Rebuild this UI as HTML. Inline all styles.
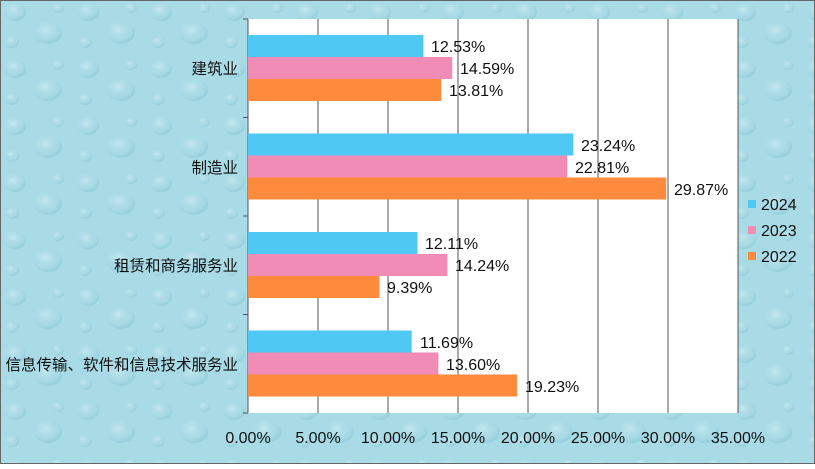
<!DOCTYPE html>
<html><head><meta charset="utf-8"><style>
html,body{margin:0;padding:0}
body{width:815px;height:464px;overflow:hidden;font-family:"Liberation Sans","Noto Sans CJK SC",sans-serif;}
</style></head><body>
<svg width="815" height="464" xmlns="http://www.w3.org/2000/svg" font-family="Liberation Sans, Noto Sans CJK SC, sans-serif">
<defs>
<radialGradient id="d" cx="40%" cy="35%" r="60%"><stop offset="0" stop-color="#d8f0f5" stop-opacity="0.6"/><stop offset="0.7" stop-color="#a6d8e3" stop-opacity="0.2"/><stop offset="1" stop-color="#7fc2d1" stop-opacity="0.4"/></radialGradient>
<pattern id="p" width="73" height="57" patternUnits="userSpaceOnUse">
<rect width="73" height="57" fill="#a9dbe6"/>
<ellipse cx="15" cy="12" rx="11" ry="9" fill="url(#d)"/>
<ellipse cx="48" cy="33" rx="14" ry="11" fill="url(#d)"/>
<ellipse cx="12" cy="42" rx="7" ry="6" fill="url(#d)"/>
<ellipse cx="58" cy="8" rx="6" ry="5" fill="url(#d)"/>
</pattern>
</defs>
<rect width="815" height="464" fill="url(#p)"/>
<rect x="0.5" y="0.5" width="814" height="463" fill="none" stroke="#666"/>
<rect x="248" y="19" width="490" height="394" fill="#fff"/>
<g stroke="#555" stroke-width="1">
<line x1="318" y1="19" x2="318" y2="413"/><line x1="388" y1="19" x2="388" y2="413"/>
<line x1="458" y1="19" x2="458" y2="413"/><line x1="528" y1="19" x2="528" y2="413"/>
<line x1="598" y1="19" x2="598" y2="413"/><line x1="668" y1="19" x2="668" y2="413"/>
<line x1="738" y1="19" x2="738" y2="413"/>
<line x1="248" y1="19" x2="248" y2="413"/>
<line x1="243" y1="19" x2="248" y2="19"/><line x1="243" y1="117.5" x2="248" y2="117.5"/>
<line x1="243" y1="216" x2="248" y2="216"/><line x1="243" y1="314.5" x2="248" y2="314.5"/>
<line x1="243" y1="413" x2="248" y2="413"/>
</g>
<g>
<rect x="248" y="35" width="175.4" height="22" fill="#4fc8f3"/>
<rect x="248" y="57" width="204.3" height="22" fill="#f08cb5"/>
<rect x="248" y="79" width="193.3" height="22" fill="#fe8a3e"/>
<rect x="248" y="133.5" width="325.4" height="22" fill="#4fc8f3"/>
<rect x="248" y="155.5" width="319.3" height="22" fill="#f08cb5"/>
<rect x="248" y="177.5" width="418.2" height="22" fill="#fe8a3e"/>
<rect x="248" y="232" width="169.5" height="22" fill="#4fc8f3"/>
<rect x="248" y="254" width="199.4" height="22" fill="#f08cb5"/>
<rect x="248" y="276" width="131.5" height="22" fill="#fe8a3e"/>
<rect x="248" y="330.5" width="163.7" height="22" fill="#4fc8f3"/>
<rect x="248" y="352.5" width="190.4" height="22" fill="#f08cb5"/>
<rect x="248" y="374.5" width="269.2" height="22" fill="#fe8a3e"/>
</g>
<g font-size="16" fill="#111">
<text x="431" y="52">12.53%</text><text x="460" y="74">14.59%</text><text x="449" y="96">13.81%</text>
<text x="581" y="151">23.24%</text><text x="575" y="173">22.81%</text><text x="674" y="195">29.87%</text>
<text x="425" y="249">12.11%</text><text x="455" y="271">14.24%</text><text x="387" y="293">9.39%</text>
<text x="420" y="348">11.69%</text><text x="446" y="370">13.60%</text><text x="525" y="392">19.23%</text>
</g>
<g font-size="15.5" fill="#111" text-anchor="end">
<text x="238" y="74">建筑业</text><text x="238" y="173">制造业</text>
<text x="238" y="271">租赁和商务服务业</text><text x="238" y="370">信息传输、软件和信息技术服务业</text>
</g>
<g font-size="16" fill="#111" text-anchor="middle">
<text x="248" y="443">0.00%</text><text x="318" y="443">5.00%</text><text x="388" y="443">10.00%</text>
<text x="458" y="443">15.00%</text><text x="528" y="443">20.00%</text><text x="598" y="443">25.00%</text>
<text x="668" y="443">30.00%</text><text x="738" y="443">35.00%</text>
</g>
<rect x="748" y="200" width="8" height="8" fill="#4fc8f3"/><text x="761" y="210" font-size="16" fill="#111">2024</text>
<rect x="748" y="226" width="8" height="8" fill="#f08cb5"/><text x="761" y="236" font-size="16" fill="#111">2023</text>
<rect x="748" y="252" width="8" height="8" fill="#fe8a3e"/><text x="761" y="262" font-size="16" fill="#111">2022</text>
</svg>
</body></html>
